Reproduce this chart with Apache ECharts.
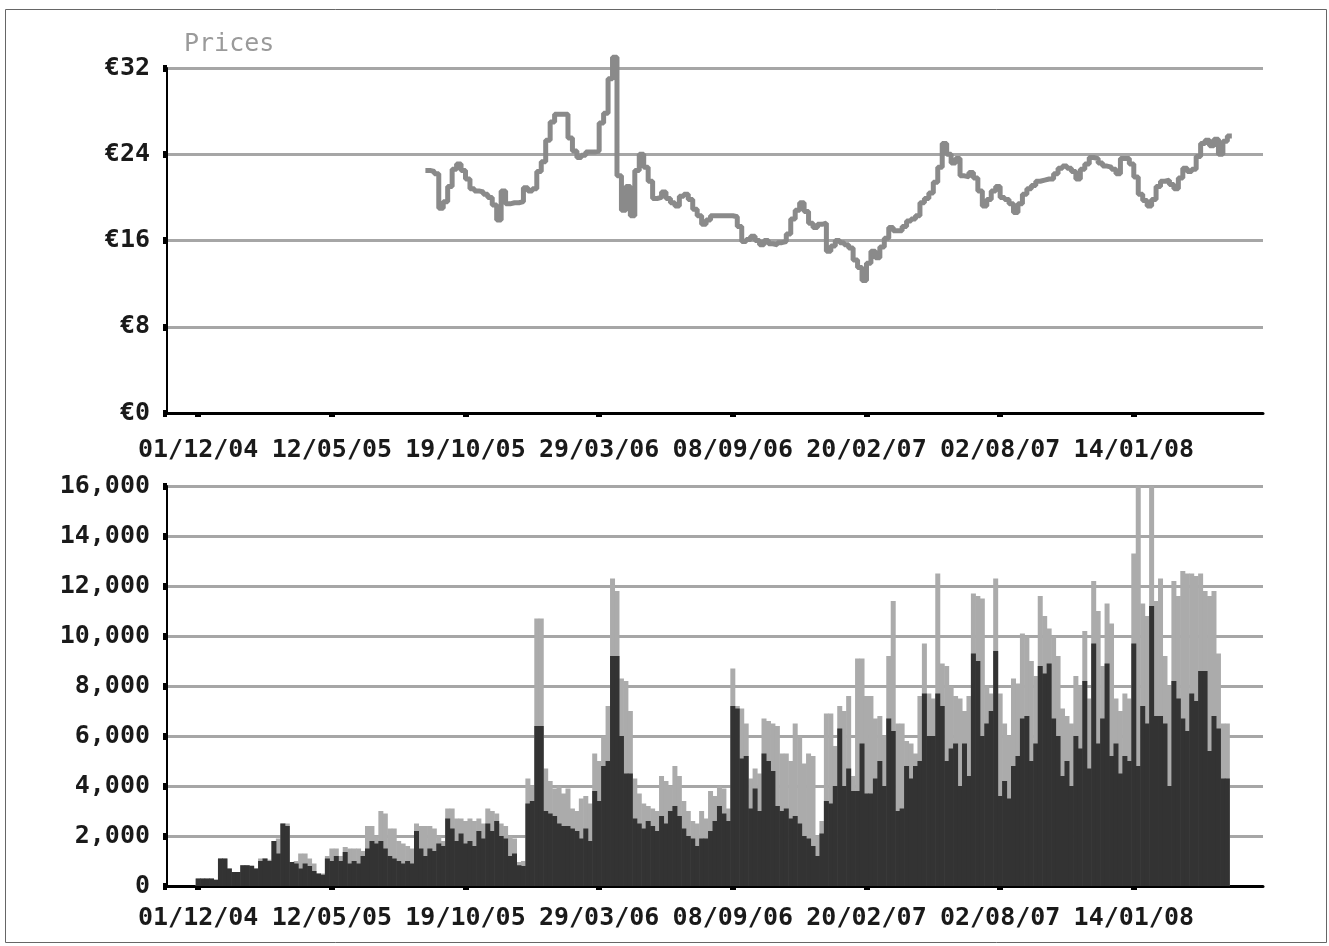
<!DOCTYPE html>
<html><head><meta charset="utf-8">
<script src="https://cdn.jsdelivr.net/npm/echarts@6/dist/echarts.min.js"></script>
<style>html,body{margin:0;padding:0;background:#fff}#c{width:1329px;height:946px}</style>
</head><body><div id="c"></div>
<script>
// ---- data ----
const tickLabels = ['01/12/04','12/05/05','19/10/05','29/03/06','08/09/06','20/02/07','02/08/07','14/01/08'];
const firstTickIndex = 7;      // period index of first labelled tick
const periodsPerTick = 30;     // periods between labelled ticks
const periodCount = 247;       // periods on the axis

const priceStart = 58;
const prices = [
22.5,22.4,22.2,19.0,19.6,21.0,22.6,23.1,22.5,21.7,
20.8,20.6,20.5,20.3,20.0,19.3,17.9,20.6,19.4,19.5,
19.5,19.6,20.9,20.6,20.8,22.4,23.3,25.3,27.0,27.7,
27.7,27.7,25.5,24.3,23.7,23.9,24.2,24.2,24.3,26.9,
27.8,31.0,33.0,22.0,18.8,21.0,18.3,22.5,24.0,22.8,
21.5,19.9,20.0,20.5,19.9,19.5,19.2,20.1,20.3,19.8,
18.9,18.3,17.5,17.9,18.3,18.3,18.3,18.3,18.3,18.2,
17.3,15.9,16.1,16.4,16.0,15.6,16.0,15.7,15.6,15.8,
15.9,16.6,18.0,18.8,19.5,18.7,17.6,17.2,17.5,17.6,
15.0,15.5,16.0,15.8,15.6,15.3,14.2,13.5,12.3,13.9,
15.0,14.4,15.4,16.2,17.2,16.9,16.9,17.3,17.8,18.0,
18.3,19.5,19.9,20.4,21.4,22.8,25.0,24.0,23.2,23.6,
22.0,21.9,22.3,21.8,20.6,19.2,19.8,20.6,21.0,20.0,
19.8,19.4,18.6,19.4,20.3,20.8,21.1,21.5,21.6,21.7,
21.7,22.2,22.7,22.9,22.7,22.4,21.7,22.6,23.1,23.7,
23.6,23.2,22.9,22.8,22.6,22.2,23.6,23.6,23.1,21.9,
20.3,19.7,19.2,19.8,21.0,21.5,21.6,21.2,20.8,21.8,
22.7,22.4,22.6,23.8,25.0,25.3,24.8,25.4,24.0,25.2,
25.7
];

const volumeStart = 7;
const volumeTotal = [
300,300,300,300,250,1100,1100,700,560,560,
830,830,830,700,1100,1100,1050,1800,1900,2500,
2500,960,1000,1300,1300,1100,900,500,500,1200,
1500,1500,1200,1560,1500,1500,1500,1400,2400,2400,
2000,3000,2900,2300,2300,1800,1700,1600,1500,2500,
2400,2400,2400,2300,2000,1800,3100,3100,2700,2700,
2600,2700,2600,2700,2500,3100,3000,2900,2500,2400,
2000,1900,960,1000,4300,4000,10700,10700,4700,4200,
3900,4000,3700,3900,3100,3000,3500,3600,3300,5300,
5000,6000,7200,12300,11800,8300,8200,7000,4300,3700,
3300,3200,3100,3000,4400,4200,4000,4800,4400,3400,
3000,2600,2500,3000,2700,3800,3600,4000,3900,3100,
8700,7200,7100,6500,4300,4700,4500,6700,6600,6500,
6400,5300,5300,5000,6500,6000,4900,5300,5200,2000,
2600,6900,6900,5600,7200,7000,7600,4400,9100,9100,
7600,7600,6700,6800,6000,9200,11400,6500,6500,5800,
5700,5300,7600,9700,7700,7500,12500,8900,8800,8000,
7600,7500,7000,7600,11700,11600,11500,8000,7700,12300,
7700,6500,6000,8300,8100,10100,10000,9000,8400,11600,
10800,10300,10000,9200,7100,6800,6500,8400,8000,10200,
7500,12200,11000,8800,11300,10500,7500,7000,7700,7500,
13300,16000,11300,10800,16000,11400,12300,9200,8000,12200,
11600,12600,12500,12500,12400,12500,11800,11600,11800,9300,
6500,6500
];
const volumeDark = [
300,300,300,300,250,1100,1100,700,560,560,
830,830,800,700,1000,1100,1000,1800,1300,2500,
2400,960,900,700,900,800,600,500,450,1100,
1000,1200,1000,1360,900,1000,900,1200,1500,1800,
1700,1800,1500,1200,1100,1000,900,1000,900,2200,
1500,1200,1500,1400,1700,1600,2700,2300,1800,2100,
1700,1800,1600,2200,1900,2500,2200,2600,2000,1900,
1200,1300,830,800,3300,3400,6400,6400,3000,2900,
2800,2500,2400,2400,2300,2200,1900,2300,1800,3800,
3400,4800,5000,9200,9200,6000,4500,4500,2700,2500,
2300,2600,2400,2200,2800,2500,3000,3200,2800,2300,
2000,1900,1600,1900,1900,2200,2600,3200,2900,2600,
7200,7100,5100,5200,3100,3900,3000,5300,5000,4600,
3200,3000,3100,2700,2800,2500,2000,1900,1600,1200,
2100,3400,3300,4000,6300,4000,4700,3800,3800,5700,
3700,3700,4300,5000,4000,6700,6200,3000,3100,4800,
4300,4800,5000,7700,6000,6000,7700,7200,5000,5500,
5700,4000,5700,4400,9300,9000,6000,6500,7000,9400,
3600,4200,3500,4800,5200,6700,6800,5000,5700,8800,
8500,8900,6700,6000,4400,5000,4000,6000,5500,8200,
4700,9700,5700,6700,8900,5200,5700,4500,5200,5000,
9700,4800,7200,6500,11200,6800,6800,6500,4000,8200,
7500,6700,6200,7700,7400,8600,8600,5400,6800,6300,
4300,4300
];

// ---- build ----
const categories = Array.from({length: periodCount}, (_, i) => String(i));
function isTick(i) {
  const k = (i - firstTickIndex) / periodsPerTick;
  return Number.isInteger(k) && k >= 0 && k < tickLabels.length;
}
function tickLabel(i) { return tickLabels[(i - firstTickIndex) / periodsPerTick]; }
function pad(arr, start) {
  return categories.map((_, i) => (i >= start && i < start + arr.length) ? arr[i - start] : null);
}

const labelFont = {fontFamily: 'DejaVu Sans Mono', fontSize: 25, fontWeight: 'bold', color: '#1a1a1a'};
const gridLine = {lineStyle: {color: '#a6a6a6', width: 3}};

const xAxes = [0, 1].map(g => ({
  type: 'category', gridIndex: g, data: categories, boundaryGap: false,
  axisLine: {lineStyle: {color: '#000', width: 3}},
  axisTick: {interval: (i) => isTick(i), length: 4, lineStyle: {color: '#000', width: 6}},
  axisLabel: Object.assign({interval: (i) => isTick(i), formatter: (v, i) => tickLabel(i), margin: g ? 20 : 25}, labelFont),
  splitLine: {show: false}
}));

const chart = echarts.init(document.getElementById('c'), null, {renderer: 'canvas'});
chart.setOption({
  animation: false,
  backgroundColor: '#fff',
  title: {text: 'Prices', left: 179, top: 27,
    textStyle: {fontFamily: 'DejaVu Sans Mono', fontSize: 25, fontWeight: 'normal', color: '#9a9a9a'}},
  graphic: [{type: 'rect', shape: {x: 5.5, y: 9.5, width: 1321, height: 933},
    style: {fill: 'none', stroke: '#666', lineWidth: 1}, silent: true}],
  grid: [
    {left: 167, right: 66, top: 68, height: 345},
    {left: 167, right: 66, top: 486, height: 400}
  ],
  xAxis: xAxes,
  yAxis: [
    {type: 'value', gridIndex: 0, min: 0, max: 32, interval: 8,
      axisLine: {show: true, lineStyle: {color: '#000', width: 2}},
      axisTick: {show: true, length: 4, lineStyle: {color: '#000', width: 7}},
      axisLabel: Object.assign({formatter: v => '€' + v, margin: 17}, labelFont),
      splitLine: gridLine},
    {type: 'value', gridIndex: 1, min: 0, max: 16000, interval: 2000,
      axisLine: {show: true, lineStyle: {color: '#000', width: 2}},
      axisTick: {show: true, length: 4, lineStyle: {color: '#000', width: 7}},
      axisLabel: Object.assign({formatter: v => v.toLocaleString('en-US'), margin: 17}, labelFont),
      splitLine: gridLine}
  ],
  series: [
    {type: 'line', xAxisIndex: 0, yAxisIndex: 0, data: pad(prices, priceStart), step: 'end',
      clip: false, symbol: 'none', lineStyle: {color: '#8a8a8a', width: 5}},
    {type: 'bar', xAxisIndex: 1, yAxisIndex: 1, data: pad(volumeTotal, volumeStart),
      barWidth: 5, barGap: '-100%', itemStyle: {color: '#ababab'}},
    {type: 'bar', xAxisIndex: 1, yAxisIndex: 1, data: pad(volumeDark, volumeStart),
      barWidth: 5, barGap: '-100%', itemStyle: {color: '#333333'}}
  ]
});
</script>
</body></html>
